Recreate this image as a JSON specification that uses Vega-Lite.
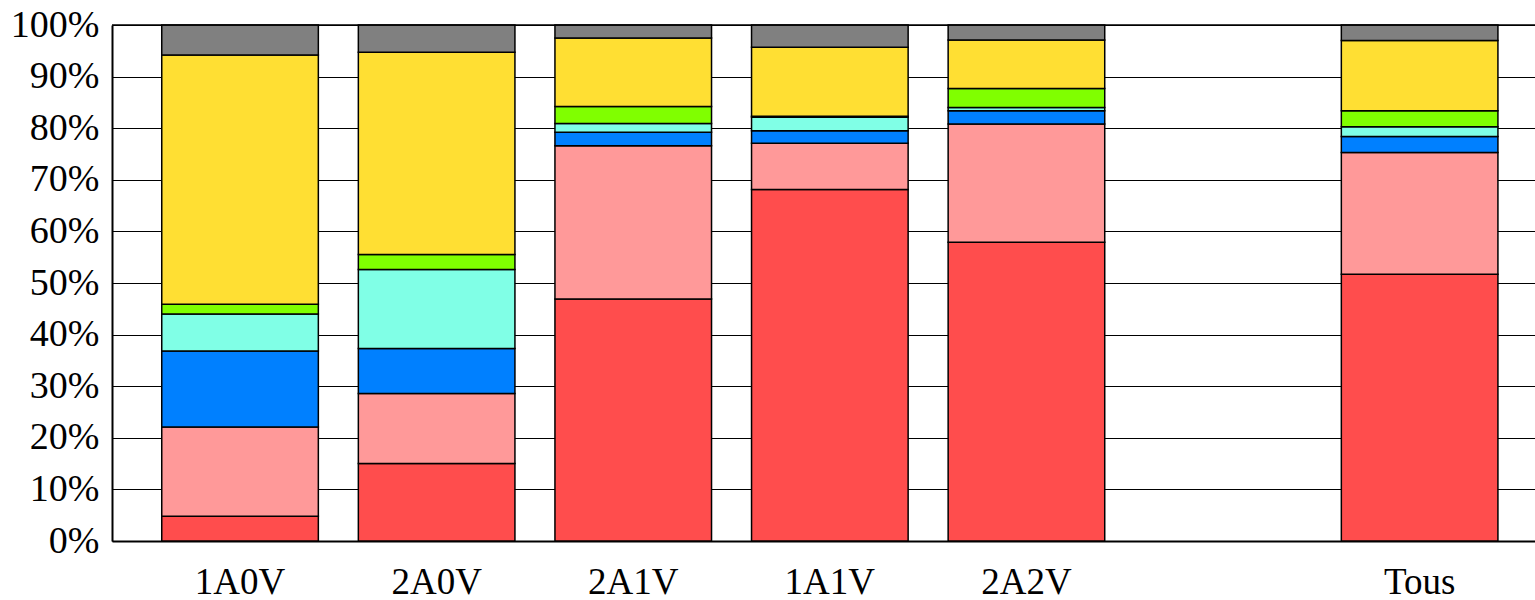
{
  "$schema": "https://vega.github.io/schema/vega-lite/v6.json",
  "autosize": "none",
  "width": 1423,
  "height": 516,
  "padding": {"left": 112, "top": 25, "right": 0, "bottom": 59},
  "background": "white",
  "config": {"view": {"stroke": null}, "font": "Liberation Serif"},
  "data": {"values": [
    {"group": "1A0V", "cat": "c1", "k": 1, "pct": 4.8},
    {"group": "1A0V", "cat": "c2", "k": 2, "pct": 17.3},
    {"group": "1A0V", "cat": "c3", "k": 3, "pct": 14.7},
    {"group": "1A0V", "cat": "c4", "k": 4, "pct": 7.2},
    {"group": "1A0V", "cat": "c5", "k": 5, "pct": 1.9},
    {"group": "1A0V", "cat": "c6", "k": 6, "pct": 48.3},
    {"group": "1A0V", "cat": "c7", "k": 7, "pct": 5.8},
    {"group": "2A0V", "cat": "c1", "k": 1, "pct": 15.0},
    {"group": "2A0V", "cat": "c2", "k": 2, "pct": 13.6},
    {"group": "2A0V", "cat": "c3", "k": 3, "pct": 8.7},
    {"group": "2A0V", "cat": "c4", "k": 4, "pct": 15.3},
    {"group": "2A0V", "cat": "c5", "k": 5, "pct": 2.9},
    {"group": "2A0V", "cat": "c6", "k": 6, "pct": 39.2},
    {"group": "2A0V", "cat": "c7", "k": 7, "pct": 5.3},
    {"group": "2A1V", "cat": "c1", "k": 1, "pct": 46.9},
    {"group": "2A1V", "cat": "c2", "k": 2, "pct": 29.7},
    {"group": "2A1V", "cat": "c3", "k": 3, "pct": 2.6},
    {"group": "2A1V", "cat": "c4", "k": 4, "pct": 1.7},
    {"group": "2A1V", "cat": "c5", "k": 5, "pct": 3.3},
    {"group": "2A1V", "cat": "c6", "k": 6, "pct": 13.3},
    {"group": "2A1V", "cat": "c7", "k": 7, "pct": 2.5},
    {"group": "1A1V", "cat": "c1", "k": 1, "pct": 68.1},
    {"group": "1A1V", "cat": "c2", "k": 2, "pct": 9.0},
    {"group": "1A1V", "cat": "c3", "k": 3, "pct": 2.4},
    {"group": "1A1V", "cat": "c4", "k": 4, "pct": 2.6},
    {"group": "1A1V", "cat": "c5", "k": 5, "pct": 0.2},
    {"group": "1A1V", "cat": "c6", "k": 6, "pct": 13.4},
    {"group": "1A1V", "cat": "c7", "k": 7, "pct": 4.3},
    {"group": "2A2V", "cat": "c1", "k": 1, "pct": 57.9},
    {"group": "2A2V", "cat": "c2", "k": 2, "pct": 22.9},
    {"group": "2A2V", "cat": "c3", "k": 3, "pct": 2.6},
    {"group": "2A2V", "cat": "c4", "k": 4, "pct": 0.6},
    {"group": "2A2V", "cat": "c5", "k": 5, "pct": 3.7},
    {"group": "2A2V", "cat": "c6", "k": 6, "pct": 9.4},
    {"group": "2A2V", "cat": "c7", "k": 7, "pct": 2.9},
    {"group": "Tous", "cat": "c1", "k": 1, "pct": 51.7},
    {"group": "Tous", "cat": "c2", "k": 2, "pct": 23.6},
    {"group": "Tous", "cat": "c3", "k": 3, "pct": 3.1},
    {"group": "Tous", "cat": "c4", "k": 4, "pct": 1.9},
    {"group": "Tous", "cat": "c5", "k": 5, "pct": 3.1},
    {"group": "Tous", "cat": "c6", "k": 6, "pct": 13.6},
    {"group": "Tous", "cat": "c7", "k": 7, "pct": 3.0}
  ]},
  "layer": [
    {
      "mark": {"type": "bar", "stroke": "black", "strokeWidth": 1.5},
      "encoding": {
        "x": {
          "field": "group", "type": "nominal",
          "scale": {"domain": ["1A0V", "2A0V", "2A1V", "1A1V", "2A2V", " ", "Tous"], "paddingInner": 0.2035, "paddingOuter": 0.2208, "align": 0.573},
          "axis": {"title": null, "labelAngle": 0, "ticks": false, "labelFontSize": 37, "labelFont": "Liberation Serif", "labelColor": "black", "labelPadding": 23, "domainColor": "black", "domainWidth": 2, "grid": false}
        },
        "y": {
          "field": "pct", "type": "quantitative", "stack": "zero",
          "scale": {"domain": [0, 100], "nice": false},
          "axis": {"title": null, "values": [0, 10, 20, 30, 40, 50, 60, 70, 80, 90, 100], "labelExpr": "datum.value + '%'", "ticks": false, "labelFontSize": 38, "labelFont": "Liberation Serif", "labelColor": "black", "labelPadding": 13, "domainColor": "black", "domainWidth": 2, "grid": true, "gridColor": "black", "gridWidth": 1}
        },
        "color": {
          "field": "cat", "type": "nominal",
          "scale": {"domain": ["c1", "c2", "c3", "c4", "c5", "c6", "c7"], "range": ["#ff4d4d", "#ff9999", "#0080ff", "#80ffe6", "#80ff00", "#ffdf33", "#808080"]},
          "legend": null
        },
        "order": {"field": "k", "type": "quantitative"}
      }
    },
    {
      "data": {"values": [{}]},
      "mark": {"type": "rule", "color": "black", "strokeWidth": 1.5},
      "encoding": {"y": {"datum": 100}}
    }
  ]
}
